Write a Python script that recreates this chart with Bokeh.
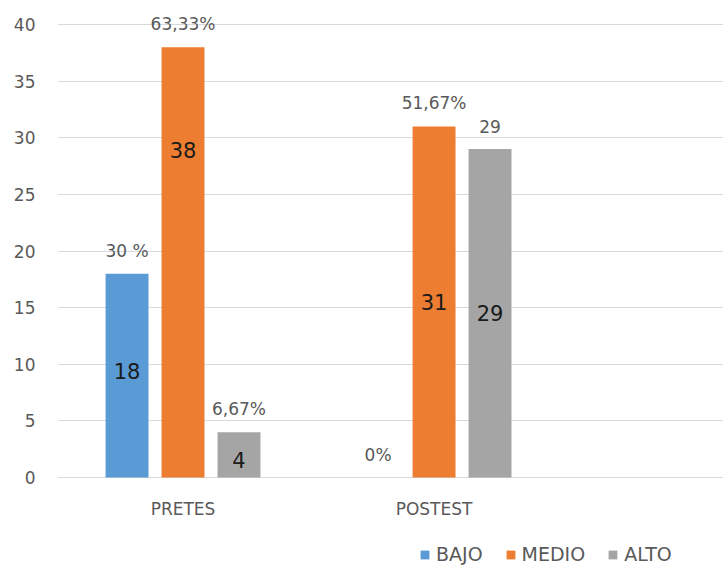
from bokeh.plotting import figure
from bokeh.models import (Range1d, FixedTicker, ColumnDataSource, Legend, LegendItem)
from bokeh.embed import file_html
from bokeh.resources import INLINE
from bokeh.core.properties import value

# ---- data ----
categories = ["PRETES", "POSTEST"]
series_names = ["BAJO", "MEDIO", "ALTO"]
bajo = [18, 0]
medio = [38, 31]
alto = [4, 29]
top_labels_bajo = ["30 %", "0%"]
top_labels_medio = ["63,33%", "51,67%"]
top_labels_alto = ["6,67%", "29"]
inner_labels_bajo = ["18", ""]
inner_labels_medio = ["38", "31"]
inner_labels_alto = ["4", "29"]
y_ticks = [0, 5, 10, 15, 20, 25, 30, 35, 40]

colors = ["#5B9BD5", "#ED7D31", "#A5A5A5"]
FONT = "DejaVu Sans"

# layout (pixels): top tick 24 px below the top, value 0 sits 88 px above the bottom
W, H = 723, 565
LEFT, TOP_GAP, ZERO_GAP = 57, 24, 88
ymax_tick = y_ticks[-1]
px_per_unit = (H - TOP_GAP - ZERO_GAP) / ymax_tick
ymin = -ZERO_GAP / px_per_unit
ymax = ymax_tick + TOP_GAP / px_per_unit

p = figure(width=W, height=H, output_backend="svg", toolbar_location=None,
           x_range=Range1d(0, 2.653), y_range=Range1d(ymin, ymax),
           min_border_left=LEFT, min_border_right=0, min_border_top=0,
           min_border_bottom=0)
p.outline_line_color = None
p.background_fill_color = "white"

cat_x = [i + 0.5 for i in range(len(categories))]
offsets = [-0.223, 0.0, 0.223]
bar_w = 0.171
series = [bajo, medio, alto]
tops = [top_labels_bajo, top_labels_medio, top_labels_alto]
inners = [inner_labels_bajo, inner_labels_medio, inner_labels_alto]
# where the inside label sits, as a fraction of the bar height
inner_frac = [[0.52, 0.5], [0.76, 0.5], [0.38, 0.5]]

renderers = []
for s, (vals, off, col) in enumerate(zip(series, offsets, colors)):
    xs = [c + off for c in cat_x]
    src = ColumnDataSource(dict(
        x=xs, top=vals,
        tl=tops[s], il=inners[s],
        iy=[v * f for v, f in zip(vals, inner_frac[s])],
    ))
    r = p.vbar(x="x", top="top", bottom=0, width=bar_w, source=src,
               fill_color=col, line_color=None)
    renderers.append(r)
    p.text(x="x", y="top", text="tl", source=src, text_align="center",
           text_baseline="middle", y_offset=-23, text_color="#595959",
           text_font=value(FONT), text_font_size="17px")
    p.text(x="x", y="iy", text="il", source=src, text_align="center",
           text_baseline="middle", text_color="#1a1a1a",
           text_font=value(FONT), text_font_size="21px")

# category labels under the zero line
cat_src = ColumnDataSource(dict(x=cat_x, y=[0] * len(cat_x), t=categories))
p.text(x="x", y="y", text="t", source=cat_src, text_align="center",
       text_baseline="middle", y_offset=31, text_color="#595959",
       text_font=value(FONT), text_font_size="17px")

# axes
p.xaxis.visible = False

p.yaxis.ticker = FixedTicker(ticks=y_ticks)
p.yaxis.axis_line_color = None
p.yaxis.major_tick_line_color = None
p.yaxis.minor_tick_line_color = None
p.yaxis.major_tick_out = 0
p.yaxis.minor_tick_out = 0
p.yaxis.major_label_standoff = 22
p.yaxis.major_label_text_font = FONT
p.yaxis.major_label_text_font_size = "17px"
p.yaxis.major_label_text_color = "#595959"

p.xgrid.grid_line_color = None
p.ygrid.grid_line_color = "#D9D9D9"
p.ygrid.grid_line_width = 1

legend = Legend(items=[LegendItem(label=n, renderers=[r]) for n, r in zip(series_names, renderers)],
                orientation="horizontal", location=(362, 0),
                glyph_width=11, glyph_height=11, label_height=16,
                label_standoff=6, spacing=22, padding=0, margin=0,
                border_line_color=None, background_fill_alpha=0,
                label_text_font=FONT, label_text_font_size="19px",
                label_text_color="#595959")
p.add_layout(legend, "center")

open("out.html", "w").write(file_html(p, INLINE))
